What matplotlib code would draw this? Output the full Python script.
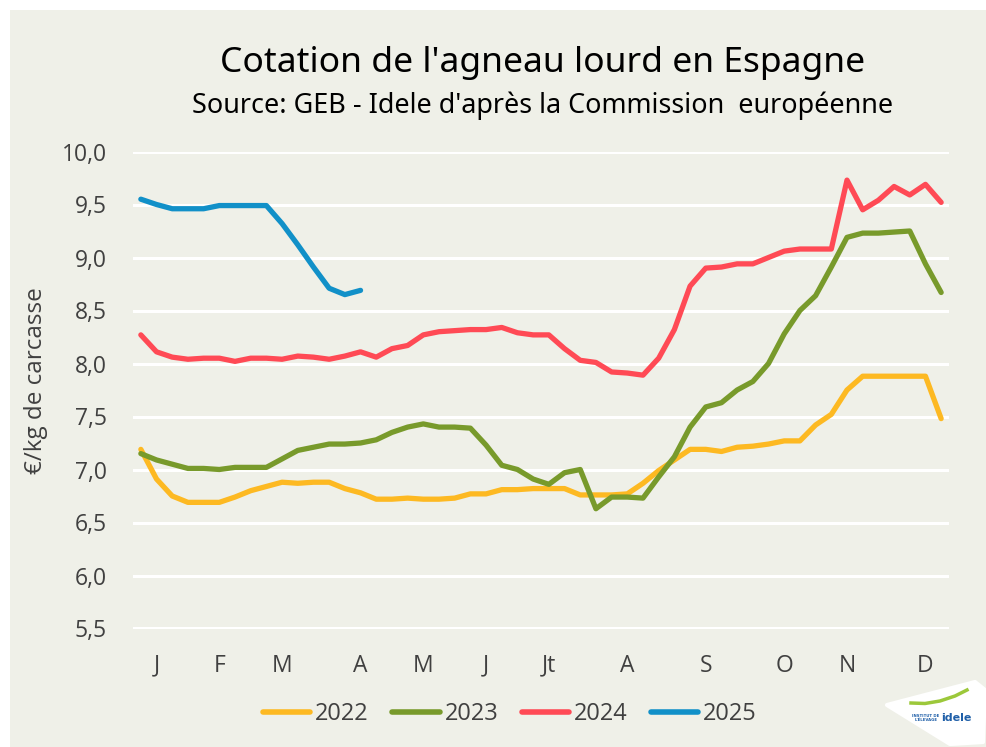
import numpy as np
import matplotlib.pyplot as plt
from matplotlib.patches import Rectangle, Polygon

# Weekly quotations (EUR/kg carcass), week index 0..51
weeks = np.arange(52)

y2022 = [7.19, 6.91, 6.75, 6.69, 6.69, 6.69, 6.74, 6.80, 6.84, 6.88,
         6.87, 6.88, 6.88, 6.82, 6.78, 6.72, 6.72, 6.73, 6.72, 6.72,
         6.73, 6.77, 6.77, 6.81, 6.81, 6.82, 6.82, 6.82, 6.76, 6.76,
         6.76, 6.77, 6.87, 6.99, 7.09, 7.19, 7.19, 7.17, 7.21, 7.22,
         7.24, 7.27, 7.27, 7.42, 7.52, 7.75, 7.88, 7.88, 7.88, 7.88,
         7.88, 7.48]

y2023 = [7.15, 7.09, 7.05, 7.01, 7.01, 7.00, 7.02, 7.02, 7.02, 7.10,
         7.18, 7.21, 7.24, 7.24, 7.25, 7.28, 7.35, 7.40, 7.43, 7.40,
         7.40, 7.39, 7.23, 7.04, 7.00, 6.91, 6.86, 6.97, 7.00, 6.63,
         6.74, 6.74, 6.73, 6.93, 7.12, 7.40, 7.59, 7.63, 7.75, 7.83,
         8.00, 8.28, 8.50, 8.64, 8.91, 9.19, 9.23, 9.23, 9.24, 9.25,
         8.94, 8.67]

y2024 = [8.27, 8.11, 8.06, 8.04, 8.05, 8.05, 8.02, 8.05, 8.05, 8.04,
         8.07, 8.06, 8.04, 8.07, 8.11, 8.06, 8.14, 8.17, 8.27, 8.30,
         8.31, 8.32, 8.32, 8.34, 8.29, 8.27, 8.27, 8.14, 8.03, 8.01,
         7.92, 7.91, 7.89, 8.05, 8.32, 8.73, 8.90, 8.91, 8.94, 8.94,
         9.00, 9.06, 9.08, 9.08, 9.08, 9.73, 9.45, 9.54, 9.67, 9.59,
         9.69, 9.52]

y2025 = [9.55, 9.50, 9.46, 9.46, 9.46, 9.49, 9.49, 9.49, 9.49, 9.32,
         9.12, 8.91, 8.71, 8.65, 8.69]

series = [("2022", y2022, "#FDB922"),
          ("2023", y2023, "#789A2B"),
          ("2024", y2024, "#FF4A55"),
          ("2025", y2025, "#1190C8")]

month_pos = [1, 5, 9, 14, 18, 22, 26, 31, 36, 41, 45, 50]
month_labels = ["J", "F", "M", "A", "M", "J", "Jt", "A", "S", "O", "N", "D"]
y_ticks = np.arange(5.5, 10.01, 0.5)

bg = "#EFF0E8"
txt = "#404040"
title_font = ["Noto Sans", "DejaVu Sans"]

W, H = 987, 747
fig = plt.figure(figsize=(W / 100, H / 100), dpi=100, facecolor="white")

def fx(px):
    return px / W

def fy(py):
    return 1 - py / H

# light panel with a thin white border on top and left (behind the axes)
fig.patches.append(Rectangle((fx(10), 0), 1, fy(10), transform=fig.transFigure,
                             facecolor=bg, edgecolor="none", zorder=-5))

ax = fig.add_axes([fx(133), fy(628.5), 816 / W, 477 / H])
ax.patch.set_alpha(0)

for label, vals, col in series:
    ax.plot(weeks[:len(vals)], vals, color=col, lw=3.8, label=label,
            solid_capstyle="round", solid_joinstyle="round", zorder=3)

ax.set_xlim(-0.5, 51.5)
ax.set_ylim(5.5, 10.0)
ax.set_yticks(y_ticks)
ax.set_yticklabels([f"{v:.1f}".replace(".", ",") for v in y_ticks])
ax.set_xticks(month_pos)
ax.set_xticklabels(month_labels)
ax.grid(axis="y", color="white", lw=2.2, zorder=1)
ax.set_axisbelow(True)
for s in ax.spines.values():
    s.set_visible(False)
ax.tick_params(axis="both", length=0, colors=txt, labelsize=16.5)
ax.tick_params(axis="x", pad=18)
ax.tick_params(axis="y", pad=19)
for t in ax.get_xticklabels() + ax.get_yticklabels():
    t.set_family("Open Sans")

ax.set_ylabel("€/kg de carcasse", fontsize=17.5, color=txt, family="Open Sans")
ax.yaxis.set_label_coords(-0.104, 0.519)

fig.text(fx(543), fy(63), "Cotation de l'agneau lourd en Espagne",
         ha="center", va="center", fontsize=25.5, color="black",
         family=title_font, fontstretch="condensed")
fig.text(fx(543), fy(106), "Source: GEB - Idele d'après la Commission  européenne",
         ha="center", va="center", fontsize=19.4, color="black",
         family=title_font, fontstretch="condensed")

leg = fig.legend(loc="center", bbox_to_anchor=(fx(510), fy(714)), ncol=4,
                 frameon=False, handlelength=2.0, handletextpad=0.2,
                 columnspacing=1.0, prop={"family": "Open Sans", "size": 17})
for t in leg.get_texts():
    t.set_color(txt)
for h in leg.get_lines():
    h.set_linewidth(4)

# rough idele logo in the corner
logo = Polygon([(fx(887), fy(705)), (fx(975), fy(682)), (fx(985), fy(690)),
                (fx(983), fy(742)), (fx(950), fy(744))],
               closed=True, transform=fig.transFigure, facecolor="white",
               edgecolor="white", lw=3, joinstyle="round", zorder=2)
fig.patches.append(logo)
fig.lines.append(plt.Line2D([fx(911), fx(925), fx(940), fx(955), fx(967)],
                            [fy(703), fy(703.5), fy(701), fy(696), fy(690)],
                            transform=fig.transFigure, color="#9CC83A", lw=2.5, zorder=3))
fig.text(fx(956), fy(718), "idele", ha="center", va="center", fontsize=8,
         color="#1F5FA8", weight="bold", zorder=4)
fig.text(fx(926), fy(718), "INSTITUT DE\nL'ÉLEVAGE", ha="center", va="center",
         fontsize=2.8, color="#1F5FA8", weight="bold", linespacing=1.0, zorder=4)

fig.savefig("out.png", dpi=100, facecolor=fig.get_facecolor())
